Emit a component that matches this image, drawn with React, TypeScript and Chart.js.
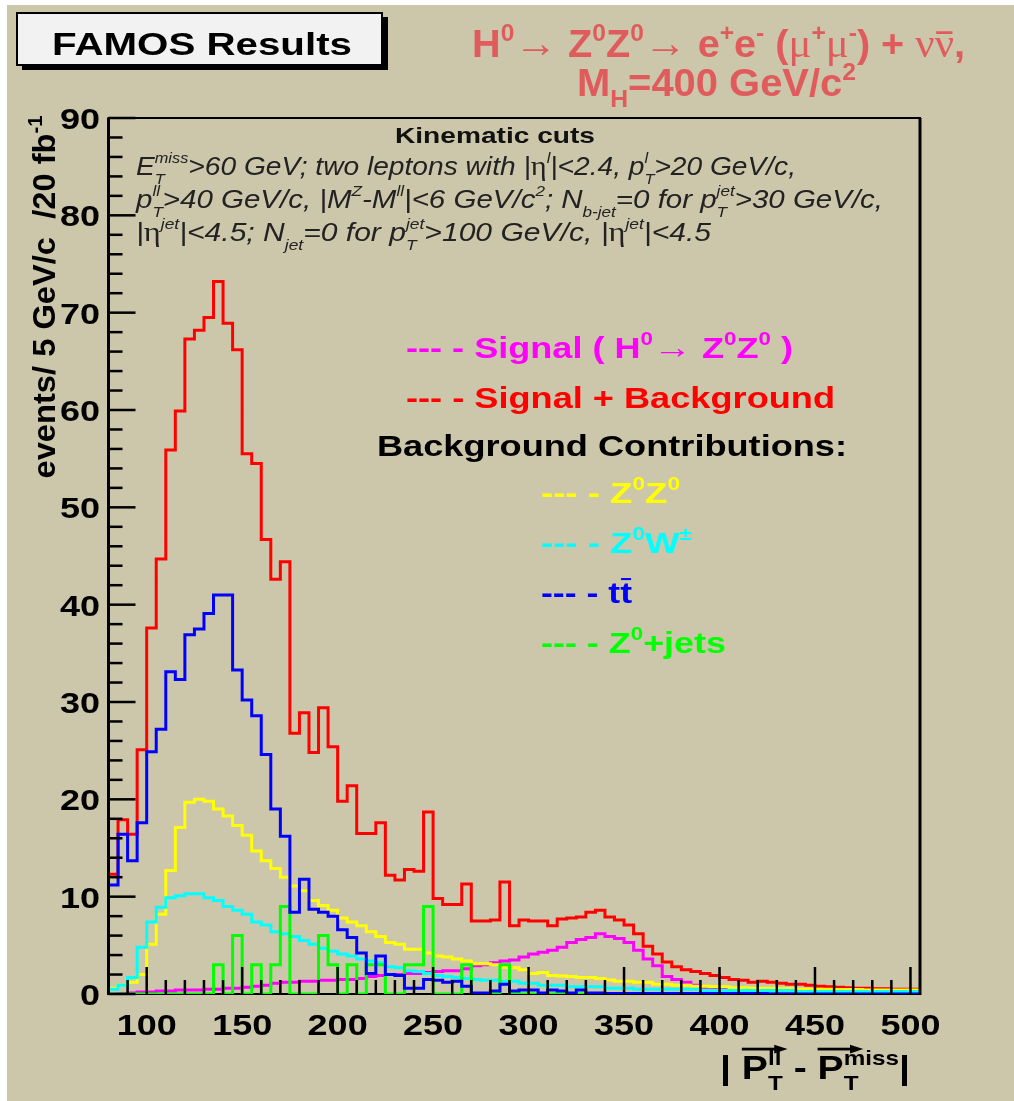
import React, { useEffect, useRef } from "react";
import { Chart, registerables } from "chart.js";

Chart.register(...registerables);

// ---------------- data (5 GeV/c bins starting at 80 GeV/c) ----------------
const binStart = 80;
const binWidth = 5;
const xMin = 80;
const xMax = 505;
const yMin = 0;
const yMax = 90;

const signalPlusBackground = [
  11.2, 12.3, 17.9, 16.4, 25.1, 37.6, 44.7, 55.9, 59.9, 67.3,
  68.2, 69.5, 73.2, 68.9, 66.2, 55.5, 54.5, 46.7, 42.6, 44.4,
  26.8, 28.9, 24.8, 29.4, 25.4, 19.8, 21.4, 16.5, 16.5, 17.6,
  12.2, 11.7, 12.8, 12.6, 18.7, 9.8, 9.2, 9.2, 11.3, 7.5,
  7.5, 7.6, 11.5, 7.0, 7.6, 7.5, 7.5, 7.0, 7.7, 7.8,
  7.9, 8.4, 8.6, 7.9, 7.6, 7.1, 6.2, 4.9, 4.1, 3.3,
  2.8, 2.5, 2.3, 2.1, 1.9, 1.7, 1.5, 1.4, 1.2, 1.3,
  1.2, 1.1, 1.0, 1.0, 0.9, 0.8, 0.75, 0.7, 0.65, 0.6,
  0.6, 0.55, 0.55, 0.5, 0.5,
];

const signal = [
  0, 0, 0.05, 0.1, 0.2, 0.2, 0.3, 0.3, 0.4, 0.4,
  0.4, 0.5, 0.5, 0.6, 0.6, 0.7, 0.8, 0.9, 1.1, 1.2,
  1.2, 1.3, 1.3, 1.4, 1.4, 1.5, 1.5, 1.6, 1.8, 1.9,
  2.0, 2.0, 2.1, 2.1, 2.2, 2.3, 2.4, 2.4, 2.6, 2.9,
  3.0, 3.2, 3.4, 3.5, 3.8, 4.1, 4.3, 4.5, 4.8, 5.3,
  5.6, 5.8, 6.2, 5.9, 5.7, 5.3, 4.5, 3.6, 2.9, 1.8,
  1.5, 1.2, 0.9, 0.7, 0.6, 0.5, 0.45, 0.4, 0.35, 0.3,
  0.3, 0.25, 0.25, 0.2, 0.2, 0.2, 0.15, 0.15, 0.15, 0.1,
  0.1, 0.1, 0.1, 0.1, 0.1,
];

const bkgZZ = [
  0.4, 0.6, 0.9, 1.2, 2.0, 5.1, 8.2, 12.7, 17.1, 19.7,
  20.0, 19.8, 19.0, 18.3, 17.3, 16.3, 14.7, 13.7, 12.9, 12.0,
  11.1, 10.6, 9.6, 9.1, 8.6, 7.8, 7.4, 7.0, 6.4, 5.9,
  5.3, 5.1, 4.6, 4.6, 4.2, 3.9, 3.8, 3.6, 3.4, 3.1,
  3.1, 3.0, 2.75, 2.7, 2.5, 2.1, 2.2, 1.9, 1.85, 1.8,
  1.7, 1.7, 1.6, 1.45, 1.3, 1.3, 1.2, 1.2, 1.0, 1.0,
  0.9, 0.9, 0.8, 0.8, 0.75, 0.75, 0.65, 0.65, 0.6, 0.6,
  0.6, 0.55, 0.55, 0.5, 0.5, 0.5, 0.5, 0.45, 0.45, 0.45,
  0.4, 0.4, 0.4, 0.4, 0.4,
];

const bkgZW = [
  0.3, 0.5, 0.9, 1.7, 4.8, 7.4, 8.9, 9.9, 10.1, 10.3,
  10.3, 9.9, 9.6, 9.0, 8.6, 8.2, 7.4, 7.1, 6.4, 6.2,
  5.9, 5.5, 5.1, 4.7, 4.4, 4.1, 3.9, 3.6, 3.4, 3.2,
  2.8, 2.7, 2.4, 2.3, 2.1, 1.9, 1.8, 1.7, 1.6, 1.5,
  1.4, 1.4, 1.3, 1.3, 1.1, 1.1, 0.9, 0.9, 0.9, 0.75,
  0.75, 0.75, 0.75, 0.6, 0.6, 0.6, 0.5, 0.5, 0.5, 0.5,
  0.5, 0.5, 0.5, 0.35, 0.35, 0.35, 0.35, 0.35, 0.35, 0.35,
  0.35, 0.35, 0.35, 0.25, 0.25, 0.25, 0.25, 0.25, 0.25, 0.25,
  0.25, 0.25, 0.25, 0.25, 0.25,
];

const bkgTT = [
  10.4, 11.2, 16.4, 13.7, 17.6, 24.9, 27.2, 33.1, 32.3, 36.9,
  37.5, 39.1, 41.0, 41.0, 33.3, 30.2, 28.6, 24.6, 19.0, 16.2,
  8.4, 11.8, 8.7, 8.4, 8.0, 6.6, 5.8, 4.2, 2.1, 3.9,
  2.0, 1.9, 0.6, 0.6, 1.5, 1.4, 1.2, 1.3, 0.8, 0.1,
  0.1, 0.3, 1.0, 0.3, 0.4, 0.4, 0.1, 0.4, 0.3, 0.1,
  0.4, 0.1, 0.1, 0.05, 0.05, 0.05, 0.05, 0.05, 0.05, 0.05,
  0.05, 0.05, 0.05, 0.05, 0.05, 0.05, 0.05, 0.05, 0.05, 0.05,
  0, 0, 0, 0, 0, 0, 0, 0, 0, 0,
  0, 0, 0, 0, 0,
];

const bkgZjets = [
  0, 0, 0, 0, 0, 0, 0, 0, 0, 0,
  0, 0, 3, 0, 6, 0, 3, 0, 3, 9,
  0, 0, 0, 6, 3, 0, 3, 0, 3, 3,
  0, 0, 3, 3, 9, 0, 0, 0, 3, 0,
  0, 0, 3, 0, 0, 0, 0, 0, 0, 0,
  0, 0, 0, 0, 0, 0, 0, 0, 0, 0,
  0, 0, 0, 0, 0, 0, 0, 0, 0, 0,
  0, 0, 0, 0, 0, 0, 0, 0, 0, 0,
  0, 0, 0, 0, 0,
];

const xTickLabels = [100, 150, 200, 250, 300, 350, 400, 450, 500];
const yTickLabels = [0, 10, 20, 30, 40, 50, 60, 70, 80, 90];

// ---------------- styling ----------------
const W = 1014;
const H = 1101;
const BG = "#ccc6aa";
const FONT = '"Liberation Sans", Arial, Helvetica, sans-serif';
const SYMFONT = '"Liberation Serif", "DejaVu Serif", serif';
const TITLE_COLOR = "#e05c5c";

type Seg = { t?: string; sup?: string; sub?: string; bar?: number; arrow?: boolean; sym?: boolean };
interface RichOpts {
  x: number;
  y: number;
  size: number;
  color: string;
  weight?: string;
  italic?: boolean;
  width?: number;
  sx?: number;
  align?: "left" | "center" | "right";
  supScale?: number;
  rise?: number;
  drop?: number;
}

function fontStr(size: number, weight: string, italic: boolean) {
  return `${italic ? "italic " : ""}${weight} ${size}px ${FONT}`;
}

function runRich(ctx: CanvasRenderingContext2D, segs: Seg[], o: RichOpts, draw: boolean) {
  const w = o.weight ?? "bold";
  const it = !!o.italic;
  const ss = o.size * (o.supScale ?? 0.62);
  let x = 0;
  for (const s of segs) {
    if (s.t) {
      ctx.font = s.sym ? `normal ${o.size * 1.08}px ${SYMFONT}` : fontStr(o.size, w, it);
      const tw = ctx.measureText(s.t).width;
      if (draw) {
        ctx.fillText(s.t, x, 0);
        if (s.bar) {
          const lw = ctx.measureText(s.t.slice(-1)).width;
          ctx.fillRect(x + tw - lw + lw * 0.08, -s.bar * o.size, lw * 0.84, Math.max(1.5, o.size * 0.07));
        }
        if (s.arrow) {
          const len = tw * 1.75;
          const y = -o.size * 0.88;
          const th = Math.max(2, o.size * 0.08);
          ctx.fillRect(x, y - th / 2, len - o.size * 0.25, th);
          ctx.beginPath();
          ctx.moveTo(x + len, y);
          ctx.lineTo(x + len - o.size * 0.34, y - o.size * 0.13);
          ctx.lineTo(x + len - o.size * 0.34, y + o.size * 0.13);
          ctx.closePath();
          ctx.fill();
        }
      }
      x += tw;
    }
    if (s.sup || s.sub) {
      ctx.font = fontStr(ss, w, it);
      const a = s.sup ? ctx.measureText(s.sup).width : 0;
      const b = s.sub ? ctx.measureText(s.sub).width : 0;
      if (draw) {
        if (s.sup) ctx.fillText(s.sup, x, -o.size * (o.rise ?? 0.45));
        if (s.sub) ctx.fillText(s.sub, x, o.size * (o.drop ?? 0.3));
      }
      x += Math.max(a, b);
    }
  }
  return x;
}

function drawRich(ctx: CanvasRenderingContext2D, segs: Seg[], o: RichOpts) {
  ctx.save();
  ctx.textAlign = "left";
  ctx.textBaseline = "alphabetic";
  const natural = runRich(ctx, segs, o, false);
  const sx = o.width ? o.width / natural : o.sx ?? 1;
  const tot = natural * sx;
  let x0 = o.x;
  if (o.align === "center") x0 -= tot / 2;
  else if (o.align === "right") x0 -= tot;
  ctx.translate(x0, o.y);
  ctx.scale(sx, 1);
  ctx.fillStyle = o.color;
  runRich(ctx, segs, o, true);
  ctx.restore();
}

function toSteps(vals: number[]) {
  const pts = vals.map((v, i) => ({ x: binStart + i * binWidth, y: v }));
  pts.push({ x: binStart + vals.length * binWidth, y: vals[vals.length - 1] });
  return pts;
}

const famosPlugin = {
  id: "famosDecor",
  beforeDraw(chart: any) {
    const ctx: CanvasRenderingContext2D = chart.ctx;
    ctx.save();
    ctx.fillStyle = "#ffffff";
    ctx.fillRect(0, 0, W, H);
    ctx.fillStyle = BG;
    ctx.fillRect(7, 5, W - 7, H - 5);
    ctx.restore();
  },
  beforeDatasetsDraw(chart: any) {
    const ctx: CanvasRenderingContext2D = chart.ctx;
    const a = chart.chartArea;
    ctx.save();
    ctx.strokeStyle = "#000";
    ctx.lineWidth = 2;
    ctx.strokeRect(a.left, a.top, a.right - a.left, a.bottom - a.top);
    ctx.restore();
  },
  afterDatasetsDraw(chart: any) {
    const ctx: CanvasRenderingContext2D = chart.ctx;
    const a = chart.chartArea;
    const xs = chart.scales.x;
    const ys = chart.scales.y;
    ctx.save();
    ctx.fillStyle = "#000";
    ctx.fillRect(a.left - 1.5, a.top, 3, a.bottom - a.top + 1);
    ctx.fillRect(a.right - 1.5, a.top, 3, a.bottom - a.top + 1);
    ctx.fillRect(a.left, a.top - 1, a.right - a.left, 2);
    for (let v = yMin; v <= yMax; v += 2) {
      const y = ys.getPixelForValue(v);
      const major = v % 10 === 0;
      ctx.fillRect(a.left, y - 1.25, major ? 27 : 14, 2.5);
    }
    for (let v = 90; v <= 500; v += 10) {
      const x = xs.getPixelForValue(v);
      const major = v % 50 === 0;
      const len = major ? 27 : 14;
      ctx.fillRect(x - 1.25, a.bottom - len, 2.5, len);
    }
    ctx.restore();

    for (const v of yTickLabels) {
      drawRich(ctx, [{ t: String(v) }], {
        x: 100, y: ys.getPixelForValue(v) + 11, size: 30, color: "#000", sx: 1.2, align: "right",
      });
    }
    for (const v of xTickLabels) {
      drawRich(ctx, [{ t: String(v) }], {
        x: xs.getPixelForValue(v), y: 1035, size: 30, color: "#000", sx: 1.2, align: "center",
      });
    }

    drawRich(
      ctx,
      [{ t: "| " }, { t: "P", arrow: true, sup: "ll", sub: "T" }, { t: " - " }, { t: "P", arrow: true, sup: "miss", sub: "T" }, { t: "|" }],
      { x: 720, y: 1079, size: 34, color: "#000", width: 190, rise: 0.41, drop: 0.32 }
    );
    ctx.save();
    ctx.translate(55, 297);
    ctx.rotate(-Math.PI / 2);
    drawRich(ctx, [{ t: "events/ 5 GeV/c  /20 fb", sup: "-1" }], {
      x: 0, y: 0, size: 32, color: "#000", width: 363, align: "center", rise: 0.42,
    });
    ctx.restore();

    ctx.save();
    ctx.fillStyle = "#000";
    ctx.fillRect(22, 17, 366, 53);
    ctx.fillStyle = "#f2f2f2";
    ctx.fillRect(16, 12, 367, 54);
    ctx.strokeStyle = "#000";
    ctx.lineWidth = 2;
    ctx.strokeRect(17, 13, 365, 52);
    ctx.restore();
    drawRich(ctx, [{ t: "FAMOS Results" }], { x: 52, y: 55, size: 32, color: "#000", width: 300 });

    drawRich(
      ctx,
      [
        { t: "H", sup: "0" }, { t: "\u2192", sym: true }, { t: " Z", sup: "0" }, { t: "Z", sup: "0" },
        { t: "\u2192", sym: true }, { t: " e", sup: "+" }, { t: "e", sup: "-" }, { t: " (" },
        { t: "\u03bc", sym: true, sup: "+" }, { t: "\u03bc", sym: true, sup: "-" }, { t: ") + " },
        { t: "\u03bd", sym: true }, { t: "\u03bd", sym: true, bar: 0.66 }, { t: "," },
      ],
      { x: 472, y: 57, size: 39, color: TITLE_COLOR, width: 493, rise: 0.42 }
    );
    drawRich(ctx, [{ t: "M", sub: "H" }, { t: "=400 GeV/c", sup: "2" }], {
      x: 577, y: 96, size: 38, color: TITLE_COLOR, width: 279, rise: 0.42, drop: 0.3,
    });

    drawRich(ctx, [{ t: "Kinematic cuts" }], { x: 495, y: 143, size: 22, color: "#111", width: 200, align: "center" });
    const kin: RichOpts = { x: 136, y: 0, size: 25, color: "#222", weight: "normal", italic: true, rise: 0.5, drop: 0.36, supScale: 0.58 };
    drawRich(
      ctx,
      [
        { t: "E", sup: "miss", sub: "T" }, { t: ">60 GeV; two leptons with |" }, { t: "\u03b7", sym: true, sup: "l" },
        { t: "|<2.4, p", sup: "l", sub: "T" }, { t: ">20 GeV/c," },
      ],
      { ...kin, y: 175, width: 660 }
    );
    drawRich(
      ctx,
      [
        { t: "p", sup: "ll", sub: "T" }, { t: ">40 GeV/c, |M", sup: "Z" }, { t: "-M", sup: "ll" }, { t: "|<6 GeV/c", sup: "2" },
        { t: "; N", sub: "b-jet" }, { t: "=0 for p", sup: "jet", sub: "T" }, { t: ">30 GeV/c," },
      ],
      { ...kin, y: 208, width: 747 }
    );
    drawRich(
      ctx,
      [
        { t: "|" }, { t: "\u03b7", sym: true, sup: "jet" }, { t: "|<4.5; N", sub: "jet" }, { t: "=0 for p", sup: "jet", sub: "T" },
        { t: ">100 GeV/c, |" }, { t: "\u03b7", sym: true, sup: "jet" }, { t: "|<4.5" },
      ],
      { ...kin, y: 241, width: 575 }
    );

    const lg = { size: 29, rise: 0.45 };
    drawRich(
      ctx,
      [{ t: "--- - Signal ( H", sup: "0" }, { t: "\u2192", sym: true }, { t: " Z", sup: "0" }, { t: "Z", sup: "0" }, { t: " )" }],
      { ...lg, x: 406, y: 358, color: "#ff00ff", width: 387 }
    );
    drawRich(ctx, [{ t: "--- - Signal + Background" }], { ...lg, x: 406, y: 408, color: "#ff0000", width: 429 });
    drawRich(ctx, [{ t: "Background Contributions:" }], { ...lg, x: 377, y: 456, color: "#000", width: 470 });
    drawRich(ctx, [{ t: "--- - Z", sup: "0" }, { t: "Z", sup: "0" }], { ...lg, x: 541, y: 503, color: "#ffff00", width: 139 });
    drawRich(ctx, [{ t: "--- - Z", sup: "0" }, { t: "W", sup: "\u00b1" }], { ...lg, x: 541, y: 553, color: "#00ffff", width: 151 });
    drawRich(ctx, [{ t: "--- - t" }, { t: "t", bar: 0.86 }], { ...lg, x: 541, y: 603, color: "#0000ff", width: 91 });
    drawRich(ctx, [{ t: "--- - Z", sup: "0" }, { t: "+jets" }], { ...lg, x: 541, y: 653, color: "#00ff00", width: 185 });
  },
};

function histDataset(label: string, vals: number[], color: string, order: number) {
  return {
    label,
    data: toSteps(vals),
    borderColor: color,
    backgroundColor: color,
    borderWidth: 3,
    stepped: "after" as const,
    pointRadius: 0,
    fill: false,
    tension: 0,
    borderJoinStyle: "miter" as const,
    borderCapStyle: "butt" as const,
    order,
  };
}

export default function App() {
  const ref = useRef<HTMLCanvasElement>(null);
  useEffect(() => {
    if (!ref.current) return;
    const chart = new Chart(ref.current, {
      type: "line",
      data: {
        datasets: [
          histDataset("Signal + Background", signalPlusBackground, "#ff0000", 6),
          histDataset("Signal (H0 -> Z0Z0)", signal, "#ff00ff", 5),
          histDataset("Z0Z0", bkgZZ, "#ffff00", 4),
          histDataset("Z0W", bkgZW, "#00ffff", 3),
          histDataset("Z0+jets", bkgZjets, "#00ff00", 2),
          histDataset("ttbar", bkgTT, "#0000ff", 1),
        ],
      },
      options: {
        animation: false,
        responsive: false,
        maintainAspectRatio: false,
        devicePixelRatio: 1,
        layout: { padding: { left: 108.5, top: 118, right: 94, bottom: 107 } },
        scales: {
          x: { type: "linear", min: xMin, max: xMax, display: false },
          y: { type: "linear", min: yMin, max: yMax, display: false },
        },
        plugins: { legend: { display: false }, tooltip: { enabled: false } },
        events: [],
      },
      plugins: [famosPlugin],
    } as any);
    return () => chart.destroy();
  }, []);
  return (
    <div style={{ position: "absolute", left: 0, top: 0, width: W, height: H, overflow: "hidden", background: "#fff" }}>
      <canvas ref={ref} width={W} height={H} style={{ display: "block", width: W, height: H }} />
    </div>
  );
}
